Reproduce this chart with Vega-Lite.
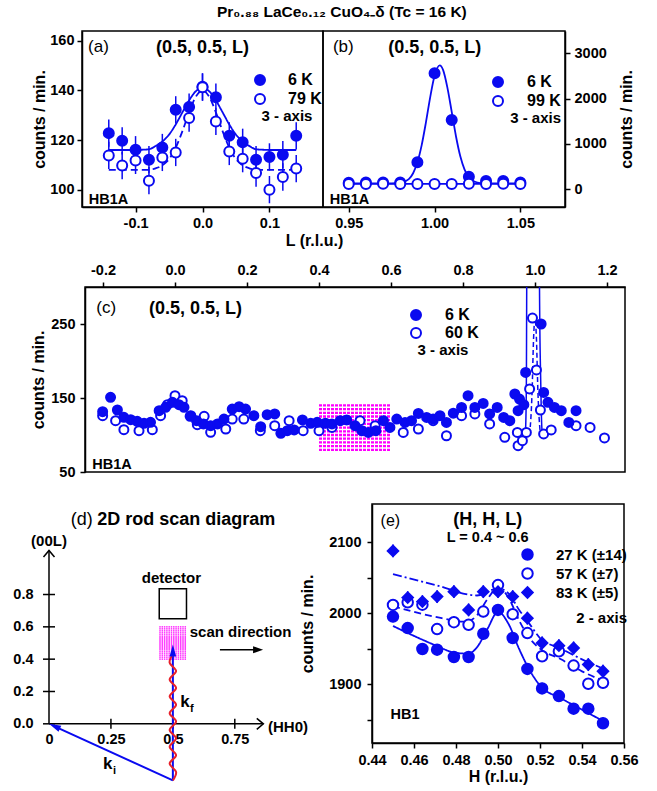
{
  "$schema": "https://vega.github.io/schema/vega-lite/v6.json",
  "padding": {"left": 12, "top": 4, "right": 0, "bottom": 0},
  "background": "white",
  "title": {"text": "Pr₀.₈₈ LaCe₀.₁₂ CuO₄₋δ (Tc = 16 K)", "fontSize": 15.5, "fontWeight": "bold", "font": "Liberation Sans", "color": "black", "anchor": "middle", "dx": 16, "offset": 10},
  "datasets": {
    "a_pts": [
      {"L": -0.14, "c": 122.8, "e": 5.5, "T": "6 K"}, {"L": -0.12, "c": 119.7, "e": 5.5, "T": "6 K"}, {"L": -0.10, "c": 116.1, "e": 5.5, "T": "6 K"}, {"L": -0.08, "c": 112.1, "e": 5.5, "T": "6 K"}, {"L": -0.06, "c": 117.0, "e": 5.5, "T": "6 K"}, {"L": -0.04, "c": 132.2, "e": 5.5, "T": "6 K"}, {"L": -0.02, "c": 133.3, "e": 5.5, "T": "6 K"}, {"L": 0.0, "c": 141.5, "e": 5.5, "T": "6 K"}, {"L": 0.02, "c": 137.3, "e": 5.5, "T": "6 K"}, {"L": 0.04, "c": 121.7, "e": 5.5, "T": "6 K"}, {"L": 0.06, "c": 119.1, "e": 5.5, "T": "6 K"}, {"L": 0.08, "c": 112.1, "e": 5.5, "T": "6 K"}, {"L": 0.10, "c": 113.2, "e": 5.5, "T": "6 K"}, {"L": 0.12, "c": 114.1, "e": 5.5, "T": "6 K"}, {"L": 0.14, "c": 121.7, "e": 5.5, "T": "6 K"},
      {"L": -0.14, "c": 113.8, "e": 5.5, "T": "79 K"}, {"L": -0.12, "c": 109.7, "e": 5.5, "T": "79 K"}, {"L": -0.10, "c": 111.8, "e": 5.5, "T": "79 K"}, {"L": -0.08, "c": 103.6, "e": 5.5, "T": "79 K"}, {"L": -0.06, "c": 113.0, "e": 5.5, "T": "79 K"}, {"L": -0.04, "c": 115.0, "e": 5.5, "T": "79 K"}, {"L": -0.02, "c": 128.9, "e": 5.5, "T": "79 K"}, {"L": 0.0, "c": 141.3, "e": 5.5, "T": "79 K"}, {"L": 0.02, "c": 127.5, "e": 5.5, "T": "79 K"}, {"L": 0.04, "c": 115.4, "e": 5.5, "T": "79 K"}, {"L": 0.06, "c": 112.5, "e": 5.5, "T": "79 K"}, {"L": 0.08, "c": 106.7, "e": 5.5, "T": "79 K"}, {"L": 0.10, "c": 100.0, "e": 5.5, "T": "79 K"}, {"L": 0.12, "c": 105.1, "e": 5.5, "T": "79 K"}, {"L": 0.14, "c": 108.5, "e": 5.5, "T": "79 K"}
    ],
    "a_fit": [
      {"L": -0.14, "c": 116, "F": "6 K fit"}, {"L": -0.10, "c": 116, "F": "6 K fit"}, {"L": -0.09, "c": 116.1, "F": "6 K fit"}, {"L": -0.08, "c": 116.3, "F": "6 K fit"}, {"L": -0.07, "c": 117.6, "F": "6 K fit"}, {"L": -0.06, "c": 119.4, "F": "6 K fit"}, {"L": -0.05, "c": 122.2, "F": "6 K fit"}, {"L": -0.04, "c": 126.3, "F": "6 K fit"}, {"L": -0.03, "c": 131.2, "F": "6 K fit"}, {"L": -0.02, "c": 136.0, "F": "6 K fit"}, {"L": -0.01, "c": 139.7, "F": "6 K fit"}, {"L": 0.0, "c": 141.0, "F": "6 K fit"}, {"L": 0.01, "c": 139.7, "F": "6 K fit"}, {"L": 0.02, "c": 136.0, "F": "6 K fit"}, {"L": 0.03, "c": 131.2, "F": "6 K fit"}, {"L": 0.04, "c": 126.3, "F": "6 K fit"}, {"L": 0.05, "c": 122.2, "F": "6 K fit"}, {"L": 0.06, "c": 119.4, "F": "6 K fit"}, {"L": 0.07, "c": 117.6, "F": "6 K fit"}, {"L": 0.08, "c": 116.3, "F": "6 K fit"}, {"L": 0.09, "c": 116.1, "F": "6 K fit"}, {"L": 0.10, "c": 116, "F": "6 K fit"}, {"L": 0.14, "c": 116, "F": "6 K fit"},
      {"L": -0.14, "c": 108, "F": "79 K fit"}, {"L": -0.08, "c": 108, "F": "79 K fit"}, {"L": -0.07, "c": 108.6, "F": "79 K fit"}, {"L": -0.06, "c": 109.8, "F": "79 K fit"}, {"L": -0.05, "c": 112.3, "F": "79 K fit"}, {"L": -0.04, "c": 116.9, "F": "79 K fit"}, {"L": -0.03, "c": 123.6, "F": "79 K fit"}, {"L": -0.02, "c": 131.2, "F": "79 K fit"}, {"L": -0.01, "c": 137.5, "F": "79 K fit"}, {"L": 0.0, "c": 140, "F": "79 K fit"}, {"L": 0.01, "c": 137.5, "F": "79 K fit"}, {"L": 0.02, "c": 131.2, "F": "79 K fit"}, {"L": 0.03, "c": 123.6, "F": "79 K fit"}, {"L": 0.04, "c": 116.9, "F": "79 K fit"}, {"L": 0.05, "c": 112.3, "F": "79 K fit"}, {"L": 0.06, "c": 109.8, "F": "79 K fit"}, {"L": 0.07, "c": 108.6, "F": "79 K fit"}, {"L": 0.08, "c": 108, "F": "79 K fit"}, {"L": 0.14, "c": 108, "F": "79 K fit"}
    ],
    "b_pts": [
      {"L": 0.95, "c": 147, "T": "6 K"}, {"L": 0.96, "c": 150, "T": "6 K"}, {"L": 0.97, "c": 150, "T": "6 K"}, {"L": 0.98, "c": 152, "T": "6 K"}, {"L": 0.99, "c": 596, "T": "6 K"}, {"L": 1.00, "c": 2559, "T": "6 K"}, {"L": 1.01, "c": 1529, "T": "6 K"}, {"L": 1.02, "c": 279, "T": "6 K"}, {"L": 1.03, "c": 184, "T": "6 K"}, {"L": 1.04, "c": 184, "T": "6 K"}, {"L": 1.05, "c": 150, "T": "6 K"},
      {"L": 0.95, "c": 118, "T": "99 K"}, {"L": 0.96, "c": 118, "T": "99 K"}, {"L": 0.97, "c": 120, "T": "99 K"}, {"L": 0.98, "c": 115, "T": "99 K"}, {"L": 0.99, "c": 118, "T": "99 K"}, {"L": 1.00, "c": 117, "T": "99 K"}, {"L": 1.01, "c": 116, "T": "99 K"}, {"L": 1.02, "c": 120, "T": "99 K"}, {"L": 1.03, "c": 118, "T": "99 K"}, {"L": 1.04, "c": 120, "T": "99 K"}, {"L": 1.05, "c": 118, "T": "99 K"}
    ],
    "b_fit": [
      {"L": 0.95, "c": 130, "F": "6 K fit"}, {"L": 0.97, "c": 130, "F": "6 K fit"}, {"L": 0.98, "c": 142, "F": "6 K fit"}, {"L": 0.985, "c": 225, "F": "6 K fit"}, {"L": 0.9875, "c": 354, "F": "6 K fit"}, {"L": 0.99, "c": 595, "F": "6 K fit"}, {"L": 0.9925, "c": 975, "F": "6 K fit"}, {"L": 0.995, "c": 1482, "F": "6 K fit"}, {"L": 0.9975, "c": 2039, "F": "6 K fit"}, {"L": 1.0, "c": 2501, "F": "6 K fit"}, {"L": 1.003, "c": 2730, "F": "6 K fit"}, {"L": 1.005, "c": 2626, "F": "6 K fit"}, {"L": 1.0075, "c": 2237, "F": "6 K fit"}, {"L": 1.01, "c": 1708, "F": "6 K fit"}, {"L": 1.0125, "c": 1165, "F": "6 K fit"}, {"L": 1.015, "c": 728, "F": "6 K fit"}, {"L": 1.0175, "c": 434, "F": "6 K fit"}, {"L": 1.02, "c": 266, "F": "6 K fit"}, {"L": 1.025, "c": 149, "F": "6 K fit"}, {"L": 1.03, "c": 130, "F": "6 K fit"}, {"L": 1.05, "c": 130, "F": "6 K fit"},
      {"L": 0.95, "c": 118, "F": "99 K fit"}, {"L": 1.05, "c": 118, "F": "99 K fit"}
    ],
    "c_pts": [
      {"L": -0.201, "c": 126.1, "T": "60 K"}, {"L": -0.165, "c": 119.4, "T": "60 K"}, {"L": -0.142, "c": 107.2, "T": "60 K"}, {"L": -0.100, "c": 105.9, "T": "60 K"}, {"L": -0.063, "c": 107.2, "T": "60 K"}, {"L": -0.040, "c": 126.1, "T": "60 K"}, {"L": -0.021, "c": 141.0, "T": "60 K"}, {"L": 0.000, "c": 153.2, "T": "60 K"}, {"L": 0.020, "c": 146.4, "T": "60 K"}, {"L": 0.044, "c": 126.1, "T": "60 K"}, {"L": 0.062, "c": 114.0, "T": "60 K"}, {"L": 0.081, "c": 125.2, "T": "60 K"}, {"L": 0.099, "c": 103.6, "T": "60 K"}, {"L": 0.141, "c": 108.1, "T": "60 K"}, {"L": 0.159, "c": 121.6, "T": "60 K"}, {"L": 0.191, "c": 121.6, "T": "60 K"}, {"L": 0.237, "c": 105.8, "T": "60 K"}, {"L": 0.277, "c": 112.6, "T": "60 K"}, {"L": 0.317, "c": 119.4, "T": "60 K"}, {"L": 0.356, "c": 105.9, "T": "60 K"}, {"L": 0.400, "c": 105.9, "T": "60 K"}, {"L": 0.436, "c": 110.3, "T": "60 K"}, {"L": 0.514, "c": 119.3, "T": "60 K"}, {"L": 0.556, "c": 112.6, "T": "60 K"}, {"L": 0.634, "c": 103.5, "T": "60 K"}, {"L": 0.676, "c": 108.1, "T": "60 K"}, {"L": 0.717, "c": 119.3, "T": "60 K"}, {"L": 0.754, "c": 99.0, "T": "60 K"}, {"L": 0.796, "c": 126.1, "T": "60 K"}, {"L": 0.833, "c": 128.4, "T": "60 K"}, {"L": 0.874, "c": 114.9, "T": "60 K"}, {"L": 0.916, "c": 96.8, "T": "60 K"}, {"L": 0.951, "c": 103.5, "T": "60 K"}, {"L": 0.953, "c": 85.5, "T": "60 K"}, {"L": 0.965, "c": 92.3, "T": "60 K"}, {"L": 0.976, "c": 103.5, "T": "60 K"}, {"L": 0.985, "c": 162.2, "T": "60 K"}, {"L": 0.993, "c": 258, "T": "60 K"}, {"L": 1.004, "c": 188, "T": "60 K"}, {"L": 1.015, "c": 133.8, "T": "60 K"}, {"L": 1.024, "c": 101.4, "T": "60 K"}, {"L": 1.045, "c": 106.8, "T": "60 K"}, {"L": 1.114, "c": 112.6, "T": "60 K"}, {"L": 1.153, "c": 110.3, "T": "60 K"}, {"L": 1.193, "c": 96.0, "T": "60 K"},
      {"L": -0.201, "c": 131.5, "T": "6 K"}, {"L": -0.179, "c": 150.9, "T": "6 K"}, {"L": -0.160, "c": 133.8, "T": "6 K"}, {"L": -0.142, "c": 123.9, "T": "6 K"}, {"L": -0.123, "c": 120.7, "T": "6 K"}, {"L": -0.105, "c": 118.5, "T": "6 K"}, {"L": -0.086, "c": 115.8, "T": "6 K"}, {"L": -0.068, "c": 117.1, "T": "6 K"}, {"L": -0.044, "c": 132.9, "T": "6 K"}, {"L": -0.026, "c": 137.4, "T": "6 K"}, {"L": -0.007, "c": 144.1, "T": "6 K"}, {"L": 0.011, "c": 141.0, "T": "6 K"}, {"L": 0.025, "c": 137.4, "T": "6 K"}, {"L": 0.042, "c": 125.2, "T": "6 K"}, {"L": 0.060, "c": 119.4, "T": "6 K"}, {"L": 0.079, "c": 114.9, "T": "6 K"}, {"L": 0.099, "c": 112.6, "T": "6 K"}, {"L": 0.118, "c": 114.9, "T": "6 K"}, {"L": 0.136, "c": 121.6, "T": "6 K"}, {"L": 0.159, "c": 135.1, "T": "6 K"}, {"L": 0.178, "c": 138.3, "T": "6 K"}, {"L": 0.196, "c": 135.1, "T": "6 K"}, {"L": 0.219, "c": 126.1, "T": "6 K"}, {"L": 0.238, "c": 111.3, "T": "6 K"}, {"L": 0.256, "c": 127.5, "T": "6 K"}, {"L": 0.277, "c": 128.4, "T": "6 K"}, {"L": 0.294, "c": 102.3, "T": "6 K"}, {"L": 0.312, "c": 105.9, "T": "6 K"}, {"L": 0.331, "c": 106.8, "T": "6 K"}, {"L": 0.354, "c": 120.3, "T": "6 K"}, {"L": 0.377, "c": 115.8, "T": "6 K"}, {"L": 0.395, "c": 117.1, "T": "6 K"}, {"L": 0.418, "c": 116.0, "T": "6 K"}, {"L": 0.436, "c": 114.9, "T": "6 K"}, {"L": 0.459, "c": 119.3, "T": "6 K"}, {"L": 0.477, "c": 120.3, "T": "6 K"}, {"L": 0.500, "c": 112.6, "T": "6 K"}, {"L": 0.519, "c": 105.8, "T": "6 K"}, {"L": 0.537, "c": 103.5, "T": "6 K"}, {"L": 0.558, "c": 105.8, "T": "6 K"}, {"L": 0.579, "c": 119.3, "T": "6 K"}, {"L": 0.597, "c": 110.3, "T": "6 K"}, {"L": 0.616, "c": 121.6, "T": "6 K"}, {"L": 0.639, "c": 117.0, "T": "6 K"}, {"L": 0.657, "c": 119.3, "T": "6 K"}, {"L": 0.676, "c": 129.2, "T": "6 K"}, {"L": 0.699, "c": 123.8, "T": "6 K"}, {"L": 0.717, "c": 121.6, "T": "6 K"}, {"L": 0.736, "c": 126.1, "T": "6 K"}, {"L": 0.754, "c": 117.0, "T": "6 K"}, {"L": 0.773, "c": 129.5, "T": "6 K"}, {"L": 0.796, "c": 137.3, "T": "6 K"}, {"L": 0.814, "c": 153.1, "T": "6 K"}, {"L": 0.833, "c": 137.3, "T": "6 K"}, {"L": 0.856, "c": 142.7, "T": "6 K"}, {"L": 0.874, "c": 128.4, "T": "6 K"}, {"L": 0.895, "c": 137.3, "T": "6 K"}, {"L": 0.913, "c": 123.8, "T": "6 K"}, {"L": 0.930, "c": 119.3, "T": "6 K"}, {"L": 0.944, "c": 155.4, "T": "6 K"}, {"L": 0.953, "c": 132.8, "T": "6 K"}, {"L": 0.957, "c": 148.6, "T": "6 K"}, {"L": 0.969, "c": 140.9, "T": "6 K"}, {"L": 0.974, "c": 184.6, "T": "6 K"}, {"L": 1.017, "c": 250, "T": "6 K"}, {"L": 1.024, "c": 157.6, "T": "6 K"}, {"L": 1.036, "c": 144.1, "T": "6 K"}, {"L": 1.054, "c": 137.3, "T": "6 K"}, {"L": 1.073, "c": 132.8, "T": "6 K"}, {"L": 1.094, "c": 117.0, "T": "6 K"}, {"L": 1.114, "c": 132.8, "T": "6 K"}
    ],
    "c_fit": [
      {"L": 0.972, "c": 95, "F": "6 K fit"}, {"L": 0.974, "c": 110, "F": "6 K fit"}, {"L": 0.976, "c": 170, "F": "6 K fit"}, {"L": 0.977, "c": 300, "F": "6 K fit"}, {"L": 0.985, "c": 1200, "F": "6 K fit"}, {"L": 1.0, "c": 2700, "F": "6 K fit"}, {"L": 1.008, "c": 1200, "F": "6 K fit"}, {"L": 1.0125, "c": 300, "F": "6 K fit"}, {"L": 1.016, "c": 170, "F": "6 K fit"}, {"L": 1.019, "c": 110, "F": "6 K fit"}, {"L": 1.022, "c": 98, "F": "6 K fit"},
      {"L": 0.985, "c": 100, "F": "60 K fit"}, {"L": 0.992, "c": 160, "F": "60 K fit"}, {"L": 0.996, "c": 230, "F": "60 K fit"}, {"L": 1.0, "c": 258, "F": "60 K fit"}, {"L": 1.004, "c": 230, "F": "60 K fit"}, {"L": 1.008, "c": 160, "F": "60 K fit"}, {"L": 1.015, "c": 100, "F": "60 K fit"}
    ],
    "c_mag": [{"c": 80}, {"c": 85}, {"c": 90}, {"c": 95}, {"c": 100}, {"c": 105}, {"c": 110}, {"c": 115}, {"c": 120}, {"c": 125}, {"c": 130}, {"c": 135}, {"c": 140}],
    "d_mag": [{"L": 0.4}, {"L": 0.4125}, {"L": 0.425}, {"L": 0.4375}, {"L": 0.45}, {"L": 0.4625}, {"L": 0.475}, {"L": 0.4875}, {"L": 0.5}, {"L": 0.5125}, {"L": 0.525}, {"L": 0.5375}, {"L": 0.55}, {"L": 0.5625}, {"L": 0.575}, {"L": 0.5875}, {"L": 0.6}],
    "d_wave": [
      {"i": 0, "x": 0.5, "y": -0.35}, {"i": 1, "x": 0.513, "y": -0.298}, {"i": 2, "x": 0.487, "y": -0.246}, {"i": 3, "x": 0.513, "y": -0.194}, {"i": 4, "x": 0.487, "y": -0.142}, {"i": 5, "x": 0.513, "y": -0.09}, {"i": 6, "x": 0.487, "y": -0.038}, {"i": 7, "x": 0.513, "y": 0.014}, {"i": 8, "x": 0.487, "y": 0.066}, {"i": 9, "x": 0.513, "y": 0.118}, {"i": 10, "x": 0.487, "y": 0.17}, {"i": 11, "x": 0.513, "y": 0.222}, {"i": 12, "x": 0.487, "y": 0.274}, {"i": 13, "x": 0.513, "y": 0.326}, {"i": 14, "x": 0.487, "y": 0.378}, {"i": 15, "x": 0.5, "y": 0.43}
    ],
    "e_pts": [
      {"H": 0.45, "c": 1995.3, "e": 8, "T": "27 K (±14)"}, {"H": 0.457, "c": 1979, "e": 8, "T": "27 K (±14)"}, {"H": 0.464, "c": 1949.5, "e": 8, "T": "27 K (±14)"}, {"H": 0.471, "c": 1948.6, "e": 8, "T": "27 K (±14)"}, {"H": 0.479, "c": 1938.3, "e": 8, "T": "27 K (±14)"}, {"H": 0.486, "c": 1938.3, "e": 8, "T": "27 K (±14)"}, {"H": 0.493, "c": 1971, "e": 8, "T": "27 K (±14)"}, {"H": 0.5, "c": 2004.7, "e": 8, "T": "27 K (±14)"}, {"H": 0.507, "c": 1965, "e": 8, "T": "27 K (±14)"}, {"H": 0.514, "c": 1921.5, "e": 8, "T": "27 K (±14)"}, {"H": 0.521, "c": 1894, "e": 8, "T": "27 K (±14)"}, {"H": 0.529, "c": 1883.2, "e": 8, "T": "27 K (±14)"}, {"H": 0.536, "c": 1865.4, "e": 8, "T": "27 K (±14)"}, {"H": 0.543, "c": 1865.4, "e": 8, "T": "27 K (±14)"}, {"H": 0.55, "c": 1844.9, "e": 8, "T": "27 K (±14)"},
      {"H": 0.45, "c": 2011.7, "e": 8, "T": "57 K (±7)"}, {"H": 0.457, "c": 2015.4, "e": 8, "T": "57 K (±7)"}, {"H": 0.464, "c": 2012, "e": 8, "T": "57 K (±7)"}, {"H": 0.471, "c": 1977.6, "e": 8, "T": "57 K (±7)"}, {"H": 0.479, "c": 1987.4, "e": 8, "T": "57 K (±7)"}, {"H": 0.486, "c": 1983.6, "e": 8, "T": "57 K (±7)"}, {"H": 0.493, "c": 2002.3, "e": 8, "T": "57 K (±7)"}, {"H": 0.5, "c": 2039.7, "e": 8, "T": "57 K (±7)"}, {"H": 0.507, "c": 1998.6, "e": 8, "T": "57 K (±7)"}, {"H": 0.514, "c": 1972, "e": 8, "T": "57 K (±7)"}, {"H": 0.521, "c": 1939.3, "e": 8, "T": "57 K (±7)"}, {"H": 0.529, "c": 1946.3, "e": 8, "T": "57 K (±7)"}, {"H": 0.536, "c": 1926.2, "e": 8, "T": "57 K (±7)"}, {"H": 0.543, "c": 1900.5, "e": 8, "T": "57 K (±7)"}, {"H": 0.55, "c": 1901.9, "e": 8, "T": "57 K (±7)"},
      {"H": 0.45, "c": 2087.9, "e": 9, "T": "83 K (±5)"}, {"H": 0.457, "c": 2022, "e": 9, "T": "83 K (±5)"}, {"H": 0.464, "c": 2016.4, "e": 9, "T": "83 K (±5)"}, {"H": 0.471, "c": 2023.4, "e": 9, "T": "83 K (±5)"}, {"H": 0.479, "c": 2030.4, "e": 9, "T": "83 K (±5)"}, {"H": 0.486, "c": 2004.7, "e": 9, "T": "83 K (±5)"}, {"H": 0.493, "c": 2030.4, "e": 9, "T": "83 K (±5)"}, {"H": 0.5, "c": 2030.4, "e": 9, "T": "83 K (±5)"}, {"H": 0.507, "c": 2023.4, "e": 9, "T": "83 K (±5)"}, {"H": 0.514, "c": 1993, "e": 9, "T": "83 K (±5)"}, {"H": 0.521, "c": 1958, "e": 9, "T": "83 K (±5)"}, {"H": 0.529, "c": 1954.2, "e": 9, "T": "83 K (±5)"}, {"H": 0.536, "c": 1951, "e": 9, "T": "83 K (±5)"}, {"H": 0.543, "c": 1927.6, "e": 9, "T": "83 K (±5)"}, {"H": 0.55, "c": 1918.2, "e": 9, "T": "83 K (±5)"}
    ],
    "e_fit": [
      {"H": 0.45, "c": 1982, "F": "27 K"}, {"H": 0.46, "c": 1968, "F": "27 K"}, {"H": 0.47, "c": 1955, "F": "27 K"}, {"H": 0.48, "c": 1944, "F": "27 K"}, {"H": 0.486, "c": 1943, "F": "27 K"}, {"H": 0.49, "c": 1952, "F": "27 K"}, {"H": 0.495, "c": 1978, "F": "27 K"}, {"H": 0.5, "c": 2002, "F": "27 K"}, {"H": 0.505, "c": 1985, "F": "27 K"}, {"H": 0.51, "c": 1950, "F": "27 K"}, {"H": 0.515, "c": 1920, "F": "27 K"}, {"H": 0.52, "c": 1898, "F": "27 K"}, {"H": 0.53, "c": 1880, "F": "27 K"}, {"H": 0.54, "c": 1864, "F": "27 K"}, {"H": 0.55, "c": 1848, "F": "27 K"},
      {"H": 0.45, "c": 2010, "F": "57 K"}, {"H": 0.47, "c": 1995, "F": "57 K"}, {"H": 0.485, "c": 1988, "F": "57 K"}, {"H": 0.49, "c": 1997, "F": "57 K"}, {"H": 0.495, "c": 2020, "F": "57 K"}, {"H": 0.5, "c": 2036, "F": "57 K"}, {"H": 0.505, "c": 2022, "F": "57 K"}, {"H": 0.51, "c": 1990, "F": "57 K"}, {"H": 0.515, "c": 1965, "F": "57 K"}, {"H": 0.52, "c": 1950, "F": "57 K"}, {"H": 0.53, "c": 1935, "F": "57 K"}, {"H": 0.54, "c": 1918, "F": "57 K"}, {"H": 0.55, "c": 1905, "F": "57 K"},
      {"H": 0.45, "c": 2055, "F": "83 K"}, {"H": 0.47, "c": 2040, "F": "83 K"}, {"H": 0.49, "c": 2025, "F": "83 K"}, {"H": 0.5, "c": 2035, "F": "83 K"}, {"H": 0.505, "c": 2028, "F": "83 K"}, {"H": 0.51, "c": 2005, "F": "83 K"}, {"H": 0.515, "c": 1985, "F": "83 K"}, {"H": 0.52, "c": 1965, "F": "83 K"}, {"H": 0.53, "c": 1950, "F": "83 K"}, {"H": 0.54, "c": 1935, "F": "83 K"}, {"H": 0.55, "c": 1922, "F": "83 K"}
    ]
  },
  "spacing": 11,
  "resolve": {"scale": {"fill": "independent", "shape": "independent", "strokeDash": "independent", "stroke": "independent"}, "legend": {"fill": "independent", "shape": "independent", "strokeDash": "independent", "stroke": "independent"}},
  "vconcat": [
    {
      "hconcat": [
        {"width": 33, "height": 1, "view": {"stroke": null}, "data": {"values": []}, "mark": "point"},
        {
          "width": 241, "height": 176,
          "layer": [
            {"data": {"name": "a_fit"}, "mark": {"type": "line", "color": "#0a0af0", "strokeWidth": 1.8, "interpolate": "monotone"},
             "encoding": {
               "x": {"field": "L", "type": "quantitative", "scale": {"domain": [-0.18, 0.18], "nice": false, "zero": false}, "axis": {"values": [-0.1, 0, 0.1], "format": ".1f", "title": "L (r.l.u.)", "titleX": 232, "titlePadding": 3, "labelPadding": 4, "labelOverlap": false}},
               "y": {"field": "c", "type": "quantitative", "scale": {"domain": [93, 164], "nice": false, "zero": false}, "axis": {"values": [100, 120, 140, 160], "format": "d", "title": "counts / min.", "titlePadding": 2, "labelPadding": 3, "labelOverlap": false}},
               "strokeDash": {"field": "F", "type": "nominal", "scale": {"domain": ["6 K fit", "79 K fit"], "range": [[1, 0], [7, 4]]}, "legend": null}
             }},
            {"data": {"name": "a_pts"}, "mark": {"type": "errorbar", "color": "#0a0af0", "thickness": 1.5},
             "encoding": {"x": {"field": "L", "type": "quantitative", "title": "L (r.l.u.)"}, "y": {"field": "c", "type": "quantitative", "title": "counts / min."}, "yError": {"field": "e"}}},
            {"data": {"name": "a_pts"}, "mark": {"type": "point", "shape": "circle", "filled": true, "size": 100, "opacity": 1, "stroke": "#0a0af0", "strokeWidth": 2},
             "encoding": {
               "x": {"field": "L", "type": "quantitative"}, "y": {"field": "c", "type": "quantitative"},
               "fill": {"field": "T", "type": "nominal", "scale": {"domain": ["6 K", "79 K"], "range": ["#0a0af0", "#ffffff"]},
                        "legend": {"orient": "none", "legendX": 170, "legendY": 41, "title": "3 - axis", "titleOrient": "bottom", "titleAnchor": "middle", "titleFontSize": 15, "titleFontWeight": "bold", "titlePadding": 1, "labelFontSize": 16, "labelFontWeight": "bold", "labelOffset": 20, "rowPadding": 1, "symbolSize": 100, "symbolStrokeWidth": 2, "symbolStrokeColor": "#0a0af0", "padding": 0}}
             }},
            {"data": {"values": [{"x": -0.171, "y": 157.7, "t": "(a)"}]}, "mark": {"type": "text", "align": "left", "baseline": "middle", "fontSize": 17, "fontWeight": "normal"},
             "encoding": {"x": {"field": "x", "type": "quantitative"}, "y": {"field": "y", "type": "quantitative"}, "text": {"field": "t"}}},
            {"data": {"values": [{"x": 0.0, "y": 157.1, "t": "(0.5, 0.5, L)"}]}, "mark": {"type": "text", "align": "center", "baseline": "middle", "fontSize": 18, "fontWeight": "bold"},
             "encoding": {"x": {"field": "x", "type": "quantitative"}, "y": {"field": "y", "type": "quantitative"}, "text": {"field": "t"}}},
            {"data": {"values": [{"x": -0.17, "y": 95.8, "t": "HB1A"}]}, "mark": {"type": "text", "align": "left", "baseline": "middle", "fontSize": 14.5, "fontWeight": "bold"},
             "encoding": {"x": {"field": "x", "type": "quantitative"}, "y": {"field": "y", "type": "quantitative"}, "text": {"field": "t"}}}
          ]
        },
        {
          "width": 242, "height": 176,
          "layer": [
            {"data": {"name": "b_fit"}, "mark": {"type": "line", "color": "#0a0af0", "strokeWidth": 1.8, "interpolate": "monotone"},
             "encoding": {
               "x": {"field": "L", "type": "quantitative", "scale": {"domain": [0.935, 1.076], "nice": false, "zero": false}, "axis": {"values": [0.95, 1.0, 1.05], "format": ".2f", "title": null, "labelPadding": 4, "labelOverlap": false}},
               "y": {"field": "c", "type": "quantitative", "scale": {"domain": [-390, 3490], "nice": false, "zero": false}, "axis": {"orient": "right", "values": [0, 1000, 2000, 3000], "format": "d", "title": "counts / min.", "titleAngle": 270, "titleX": 61, "titleY": 88, "titleAlign": "center", "titleBaseline": "middle", "labelPadding": 4, "labelOverlap": false}},
               "detail": {"field": "F", "type": "nominal"}
             }},
            {"data": {"name": "b_pts"}, "mark": {"type": "point", "shape": "circle", "filled": true, "size": 100, "opacity": 1, "stroke": "#0a0af0", "strokeWidth": 2},
             "encoding": {
               "x": {"field": "L", "type": "quantitative"}, "y": {"field": "c", "type": "quantitative"},
               "fill": {"field": "T", "type": "nominal", "scale": {"domain": ["6 K", "99 K"], "range": ["#0a0af0", "#ffffff"]},
                        "legend": {"orient": "none", "legendX": 167, "legendY": 43, "title": "3 - axis", "titleOrient": "bottom", "titleAnchor": "end", "titleFontSize": 15, "titleFontWeight": "bold", "titlePadding": 1, "labelFontSize": 16, "labelFontWeight": "bold", "labelOffset": 21, "rowPadding": 1, "symbolSize": 100, "symbolStrokeWidth": 2, "symbolStrokeColor": "#0a0af0", "padding": 0}}
             }},
            {"data": {"values": [{"x": 0.9408, "y": 3144, "t": "(b)"}]}, "mark": {"type": "text", "align": "left", "baseline": "middle", "fontSize": 17, "fontWeight": "normal"},
             "encoding": {"x": {"field": "x", "type": "quantitative"}, "y": {"field": "y", "type": "quantitative"}, "text": {"field": "t"}}},
            {"data": {"values": [{"x": 1.0001, "y": 3115, "t": "(0.5, 0.5, L)"}]}, "mark": {"type": "text", "align": "center", "baseline": "middle", "fontSize": 18, "fontWeight": "bold"},
             "encoding": {"x": {"field": "x", "type": "quantitative"}, "y": {"field": "y", "type": "quantitative"}, "text": {"field": "t"}}},
            {"data": {"values": [{"x": 0.9389, "y": -236, "t": "HB1A"}]}, "mark": {"type": "text", "align": "left", "baseline": "middle", "fontSize": 14.5, "fontWeight": "bold"},
             "encoding": {"x": {"field": "x", "type": "quantitative"}, "y": {"field": "y", "type": "quantitative"}, "text": {"field": "t"}}}
          ]
        }
      ],
      "spacing": 0,
      "bounds": "flush",
      "resolve": {"scale": {"fill": "independent", "shape": "independent", "strokeDash": "independent", "stroke": "independent"}, "legend": {"fill": "independent", "shape": "independent", "strokeDash": "independent", "stroke": "independent"}}
    },
    {
      "hconcat": [
        {"width": 36, "height": 205, "view": {"stroke": null}, "data": {"values": []}, "mark": "point"},
        {
          "width": 540, "height": 185,
          "layer": [
            {"data": {"name": "c_mag"}, "mark": {"type": "rule", "color": "#ff00ff", "strokeWidth": 2.3, "strokeDash": [3, 1]},
             "encoding": {
               "x": {"datum": 0.4, "type": "quantitative", "scale": {"domain": [-0.25, 1.25], "nice": false, "zero": false}, "axis": {"orient": "top", "values": [-0.2, 0, 0.2, 0.4, 0.6, 0.8, 1.0, 1.2], "format": ".1f", "title": null, "labelPadding": 5, "labelOverlap": false}},
               "x2": {"datum": 0.6},
               "y": {"field": "c", "type": "quantitative", "scale": {"domain": [50, 300], "nice": false, "zero": false}, "axis": {"values": [50, 100, 150, 200, 250, 300], "format": "d", "title": "counts / min.", "titlePadding": 4, "labelPadding": 5, "labelOverlap": false}}
             }},
            {"data": {"name": "c_fit"}, "mark": {"type": "line", "color": "#0a0af0", "strokeWidth": 1.5, "interpolate": "monotone", "clip": true},
             "encoding": {
               "x": {"field": "L", "type": "quantitative"}, "y": {"field": "c", "type": "quantitative"},
               "strokeDash": {"field": "F", "type": "nominal", "scale": {"domain": ["6 K fit", "60 K fit"], "range": [[1, 0], [5, 3]]}, "legend": null}
             }},
            {"data": {"name": "c_pts"}, "mark": {"type": "point", "shape": "circle", "filled": true, "size": 81, "opacity": 1, "stroke": "#0a0af0", "strokeWidth": 2},
             "encoding": {
               "x": {"field": "L", "type": "quantitative"}, "y": {"field": "c", "type": "quantitative"},
               "fill": {"field": "T", "type": "nominal", "scale": {"domain": ["6 K", "60 K"], "range": ["#0a0af0", "#ffffff"]},
                        "legend": {"orient": "none", "legendX": 323, "legendY": 20, "title": "3 - axis", "titleOrient": "bottom", "titleAnchor": "middle", "titleFontSize": 15, "titleFontWeight": "bold", "titlePadding": 1, "labelFontSize": 16, "labelFontWeight": "bold", "labelOffset": 21, "rowPadding": 0, "symbolSize": 100, "symbolStrokeWidth": 2, "symbolStrokeColor": "#0a0af0", "padding": 0}}
             }},
            {"data": {"values": [{"x": -0.2186, "y": 272, "t": "(c)"}]}, "mark": {"type": "text", "align": "left", "baseline": "middle", "fontSize": 17, "fontWeight": "normal"},
             "encoding": {"x": {"field": "x", "type": "quantitative"}, "y": {"field": "y", "type": "quantitative"}, "text": {"field": "t"}}},
            {"data": {"values": [{"x": 0.057, "y": 269.9, "t": "(0.5, 0.5, L)"}]}, "mark": {"type": "text", "align": "center", "baseline": "middle", "fontSize": 18, "fontWeight": "bold"},
             "encoding": {"x": {"field": "x", "type": "quantitative"}, "y": {"field": "y", "type": "quantitative"}, "text": {"field": "t"}}},
            {"data": {"values": [{"x": -0.2297, "y": 59.5, "t": "HB1A"}]}, "mark": {"type": "text", "align": "left", "baseline": "middle", "fontSize": 14.5, "fontWeight": "bold"},
             "encoding": {"x": {"field": "x", "type": "quantitative"}, "y": {"field": "y", "type": "quantitative"}, "text": {"field": "t"}}}
          ]
        }
      ],
      "spacing": 0,
      "bounds": "flush",
      "resolve": {"scale": {"fill": "independent", "shape": "independent", "strokeDash": "independent", "stroke": "independent"}, "legend": {"fill": "independent", "shape": "independent", "strokeDash": "independent", "stroke": "independent"}}
    },
    {
      "hconcat": [
        {
          "width": 218, "height": 278, "view": {"stroke": null},
          "layer": [
            {"data": {"values": [{"x": 0, "x2": 0, "y": 0, "y2": 1.07}, {"x": 0, "x2": 0.865, "y": 0, "y2": 0}]}, "mark": {"type": "rule", "color": "black", "strokeWidth": 1.5},
             "encoding": {
               "x": {"field": "x", "type": "quantitative", "scale": {"domain": [0, 0.88], "nice": false, "zero": false}, "axis": {"values": [0, 0.25, 0.5, 0.75], "labelExpr": "format(datum.value, '.2~f')", "title": null, "ticks": false, "domain": false, "labelPadding": 9, "offset": -58.2, "labelOverlap": false}},
               "x2": {"field": "x2"},
               "y": {"field": "y", "type": "quantitative", "scale": {"domain": [-0.36, 1.36], "nice": false, "zero": false}, "axis": {"values": [0, 0.2, 0.4, 0.6, 0.8], "format": ".1f", "title": null, "ticks": false, "domain": false, "labelPadding": 16, "labelOverlap": false}},
               "y2": {"field": "y2"}
             }},
            {"data": {"name": "d_mag"}, "mark": {"type": "rule", "color": "#ff00ff", "strokeWidth": 1.4, "strokeDash": [1.5, 0.8]},
             "encoding": {"x": {"datum": 0.445}, "x2": {"datum": 0.555}, "y": {"field": "L", "type": "quantitative"}}},
            {"data": {"values": [{"x": 0.445, "x2": 0.555, "y": 0.65, "y2": 0.835}]}, "mark": {"type": "rect", "fill": "white", "stroke": "black", "strokeWidth": 1.5},
             "encoding": {"x": {"field": "x", "type": "quantitative"}, "x2": {"field": "x2"}, "y": {"field": "y", "type": "quantitative"}, "y2": {"field": "y2"}}},
            {"data": {"values": [{"v": 0}, {"v": 0.2}, {"v": 0.4}, {"v": 0.6}, {"v": 0.8}]}, "mark": {"type": "tick", "orient": "horizontal", "size": 12, "thickness": 1.5, "color": "black", "opacity": 1},
             "encoding": {"x": {"datum": 0}, "y": {"field": "v", "type": "quantitative"}}},
            {"data": {"values": [{"v": 0.25}, {"v": 0.5}, {"v": 0.75}]}, "mark": {"type": "tick", "orient": "vertical", "size": 10, "thickness": 1.5, "color": "black", "opacity": 1},
             "encoding": {"x": {"field": "v", "type": "quantitative"}, "y": {"datum": 0}}},
            {"data": {"values": [{"x": 0, "y": 1.052}]}, "mark": {"type": "point", "shape": "M-1,0.6L0,-0.6L1,0.6", "size": 121, "filled": false, "stroke": "black", "strokeWidth": 1.5, "opacity": 1},
             "encoding": {"x": {"field": "x", "type": "quantitative"}, "y": {"field": "y", "type": "quantitative"}}},
            {"data": {"values": [{"x": 0.852, "y": 0}]}, "mark": {"type": "point", "shape": "M-1,0.6L0,-0.6L1,0.6", "size": 121, "angle": 90, "filled": false, "stroke": "black", "strokeWidth": 1.5, "opacity": 1},
             "encoding": {"x": {"field": "x", "type": "quantitative"}, "y": {"field": "y", "type": "quantitative"}}},
            {"data": {"values": [{"x": 0.5, "y": -0.35, "x2": 0.02, "y2": -0.014}, {"x": 0.5, "y": -0.35, "x2": 0.5, "y2": 0.45}]}, "mark": {"type": "rule", "color": "#0a0af0", "strokeWidth": 2},
             "encoding": {"x": {"field": "x", "type": "quantitative"}, "x2": {"field": "x2"}, "y": {"field": "y", "type": "quantitative"}, "y2": {"field": "y2"}}},
            {"data": {"name": "d_wave"}, "mark": {"type": "line", "color": "#e8202a", "strokeWidth": 2, "interpolate": "cardinal"},
             "encoding": {"x": {"field": "x", "type": "quantitative"}, "y": {"field": "y", "type": "quantitative"}, "order": {"field": "i", "type": "quantitative"}}},
            {"data": {"values": [{"x": 0.5, "y": 0.453}]}, "mark": {"type": "point", "shape": "M0,-1L0.55,1L-0.55,1Z", "size": 144, "filled": true, "color": "#0a0af0", "opacity": 1},
             "encoding": {"x": {"field": "x", "type": "quantitative"}, "y": {"field": "y", "type": "quantitative"}}},
            {"data": {"values": [{"x": 0.022, "y": -0.0154}]}, "mark": {"type": "point", "shape": "M0,-1L0.55,1L-0.55,1Z", "size": 144, "angle": 294.5, "filled": true, "color": "#0a0af0", "opacity": 1},
             "encoding": {"x": {"field": "x", "type": "quantitative"}, "y": {"field": "y", "type": "quantitative"}}},
            {"data": {"values": [{"x": 0.69, "x2": 0.845, "y": 0.458}]}, "mark": {"type": "rule", "color": "black", "strokeWidth": 1.5},
             "encoding": {"x": {"field": "x", "type": "quantitative"}, "x2": {"field": "x2"}, "y": {"field": "y", "type": "quantitative"}}},
            {"data": {"values": [{"x": 0.844, "y": 0.458}]}, "mark": {"type": "point", "shape": "M0,-1L0.7,1L-0.7,1Z", "size": 100, "angle": 90, "filled": true, "color": "black", "opacity": 1},
             "encoding": {"x": {"field": "x", "type": "quantitative"}, "y": {"field": "y", "type": "quantitative"}}},
            {"data": {"values": [{"x": 0.0876, "y": 1.264, "t": "(d)"}]}, "mark": {"type": "text", "align": "left", "baseline": "middle", "fontSize": 18, "fontWeight": "normal"},
             "encoding": {"x": {"field": "x", "type": "quantitative"}, "y": {"field": "y", "type": "quantitative"}, "text": {"field": "t"}}},
            {"data": {"values": [{"x": 0.195, "y": 1.264, "t": "2D rod scan diagram"}]}, "mark": {"type": "text", "align": "left", "baseline": "middle", "fontSize": 18, "fontWeight": "bold"},
             "encoding": {"x": {"field": "x", "type": "quantitative"}, "y": {"field": "y", "type": "quantitative"}, "text": {"field": "t"}}},
            {"data": {"values": [{"x": 0.0, "y": 1.134, "t": "(00L)"}, {"x": 0.494, "y": 0.9, "t": "detector"}]}, "mark": {"type": "text", "align": "center", "baseline": "middle", "fontSize": 15, "fontWeight": "bold"},
             "encoding": {"x": {"field": "x", "type": "quantitative"}, "y": {"field": "y", "type": "quantitative"}, "text": {"field": "t"}}},
            {"data": {"values": [{"x": 0.884, "y": -0.02, "t": "(HH0)"}, {"x": 0.568, "y": 0.567, "t": "scan direction"}]}, "mark": {"type": "text", "align": "left", "baseline": "middle", "fontSize": 15, "fontWeight": "bold"},
             "encoding": {"x": {"field": "x", "type": "quantitative"}, "y": {"field": "y", "type": "quantitative"}, "text": {"field": "t"}}},
            {"data": {"values": [{"x": 0.53, "y": 0.135, "t": "k"}, {"x": 0.218, "y": -0.248, "t": "k"}]}, "mark": {"type": "text", "align": "left", "baseline": "middle", "fontSize": 17, "fontWeight": "bold"},
             "encoding": {"x": {"field": "x", "type": "quantitative"}, "y": {"field": "y", "type": "quantitative"}, "text": {"field": "t"}}},
            {"data": {"values": [{"x": 0.569, "y": 0.093, "t": "f"}, {"x": 0.258, "y": -0.29, "t": "i"}]}, "mark": {"type": "text", "align": "left", "baseline": "middle", "fontSize": 11, "fontWeight": "bold"},
             "encoding": {"x": {"field": "x", "type": "quantitative"}, "y": {"field": "y", "type": "quantitative"}, "text": {"field": "t"}}}
          ]
        },
        {
          "width": 252, "height": 239,
          "layer": [
            {"data": {"name": "e_fit"}, "mark": {"type": "line", "color": "#0a0af0", "strokeWidth": 1.8, "interpolate": "monotone"},
             "encoding": {
               "x": {"field": "H", "type": "quantitative", "scale": {"domain": [0.44, 0.56], "nice": false, "zero": false}, "axis": {"values": [0.44, 0.46, 0.48, 0.5, 0.52, 0.54, 0.56], "format": ".2f", "title": "H (r.l.u.)", "titlePadding": 2, "labelPadding": 5, "labelOverlap": false}},
               "y": {"field": "c", "type": "quantitative", "scale": {"domain": [1817, 2154], "nice": false, "zero": false}, "axis": {"values": [1850, 1900, 1950, 2000, 2050, 2100], "format": "d", "labelExpr": "datum.value % 100 === 0 ? datum.label : ''", "title": "counts / min.", "titlePadding": 13, "labelPadding": 6, "labelOverlap": false}},
               "strokeDash": {"field": "F", "type": "nominal", "scale": {"domain": ["27 K", "57 K", "83 K"], "range": [[1, 0], [7, 4], [9, 3, 2, 3]]}, "legend": null}
             }},
            {"data": {"name": "e_pts"}, "mark": {"type": "errorbar", "color": "#0a0af0", "thickness": 1.5},
             "encoding": {"x": {"field": "H", "type": "quantitative", "title": "H (r.l.u.)"}, "y": {"field": "c", "type": "quantitative", "title": "counts / min."}, "yError": {"field": "e"}}},
            {"data": {"name": "e_pts"}, "mark": {"type": "point", "filled": true, "size": 110, "opacity": 1, "strokeWidth": 2},
             "encoding": {
               "x": {"field": "H", "type": "quantitative"}, "y": {"field": "c", "type": "quantitative"},
               "fill": {"field": "T", "type": "nominal", "scale": {"domain": ["27 K (±14)", "57 K (±7)", "83 K (±5)"], "range": ["#0a0af0", "#ffffff", "#0a0af0"]},
                        "legend": {"orient": "none", "legendX": 148, "legendY": 43, "title": "2 - axis", "titleOrient": "bottom", "titleAnchor": "end", "titleFontSize": 15, "titleFontWeight": "bold", "titlePadding": 9, "labelFontSize": 15, "labelFontWeight": "bold", "labelOffset": 21, "rowPadding": 0, "symbolSize": 110, "symbolStrokeWidth": 2, "padding": 0}},
               "stroke": {"field": "T", "type": "nominal", "scale": {"domain": ["27 K (±14)", "57 K (±7)", "83 K (±5)"], "range": ["#0a0af0", "#0a0af0", "#0a0af0"]},
                        "legend": {"orient": "none", "legendX": 148, "legendY": 43, "title": "2 - axis", "titleOrient": "bottom", "titleAnchor": "end", "titleFontSize": 15, "titleFontWeight": "bold", "titlePadding": 9, "labelFontSize": 15, "labelFontWeight": "bold", "labelOffset": 21, "rowPadding": 0, "symbolSize": 110, "symbolStrokeWidth": 2, "padding": 0}},
               "shape": {"field": "T", "type": "nominal", "scale": {"domain": ["27 K (±14)", "57 K (±7)", "83 K (±5)"], "range": ["circle", "circle", "diamond"]},
                        "legend": {"orient": "none", "legendX": 148, "legendY": 43, "title": "2 - axis", "titleOrient": "bottom", "titleAnchor": "end", "titleFontSize": 15, "titleFontWeight": "bold", "titlePadding": 9, "labelFontSize": 15, "labelFontWeight": "bold", "labelOffset": 21, "rowPadding": 0, "symbolSize": 110, "symbolStrokeWidth": 2, "padding": 0}}
             }},
            {"data": {"values": [{"x": 0.4441, "y": 2130, "t": "(e)"}]}, "mark": {"type": "text", "align": "left", "baseline": "middle", "fontSize": 16, "fontWeight": "normal"},
             "encoding": {"x": {"field": "x", "type": "quantitative"}, "y": {"field": "y", "type": "quantitative"}, "text": {"field": "t"}}},
            {"data": {"values": [{"x": 0.4951, "y": 2131, "t": "(H, H, L)"}]}, "mark": {"type": "text", "align": "center", "baseline": "middle", "fontSize": 18, "fontWeight": "bold"},
             "encoding": {"x": {"field": "x", "type": "quantitative"}, "y": {"field": "y", "type": "quantitative"}, "text": {"field": "t"}}},
            {"data": {"values": [{"x": 0.4951, "y": 2106, "t": "L = 0.4 ~ 0.6"}]}, "mark": {"type": "text", "align": "center", "baseline": "middle", "fontSize": 14.5, "fontWeight": "bold"},
             "encoding": {"x": {"field": "x", "type": "quantitative"}, "y": {"field": "y", "type": "quantitative"}, "text": {"field": "t"}}},
            {"data": {"values": [{"x": 0.4488, "y": 1856.5, "t": "HB1"}]}, "mark": {"type": "text", "align": "left", "baseline": "middle", "fontSize": 14.5, "fontWeight": "bold"},
             "encoding": {"x": {"field": "x", "type": "quantitative"}, "y": {"field": "y", "type": "quantitative"}, "text": {"field": "t"}}}
          ]
        }
      ],
      "spacing": 105,
      "bounds": "flush",
      "resolve": {"scale": {"fill": "independent", "shape": "independent", "strokeDash": "independent", "stroke": "independent"}, "legend": {"fill": "independent", "shape": "independent", "strokeDash": "independent", "stroke": "independent"}}
    }
  ],
  "config": {
    "font": "Liberation Sans",
    "locale": {"number": {"decimal": ".", "thousands": ",", "grouping": [3], "currency": ["$", ""], "minus": "-"}},
    "view": {"stroke": "black", "strokeWidth": 1.5},
    "axis": {"labelFont": "Liberation Sans", "labelFontSize": 14.5, "labelFontWeight": "bold", "labelColor": "black", "titleFont": "Liberation Sans", "titleFontSize": 16, "titleFontWeight": "bold", "titleColor": "black", "tickColor": "black", "domainColor": "black", "tickSize": 5, "tickWidth": 1.5, "domainWidth": 1.5, "grid": false, "labelOverlap": false, "labelFlush": false},
    "legend": {"labelFont": "Liberation Sans", "titleFont": "Liberation Sans", "labelColor": "black", "titleColor": "black"},
    "text": {"color": "black", "font": "Liberation Sans"}
  }
}
